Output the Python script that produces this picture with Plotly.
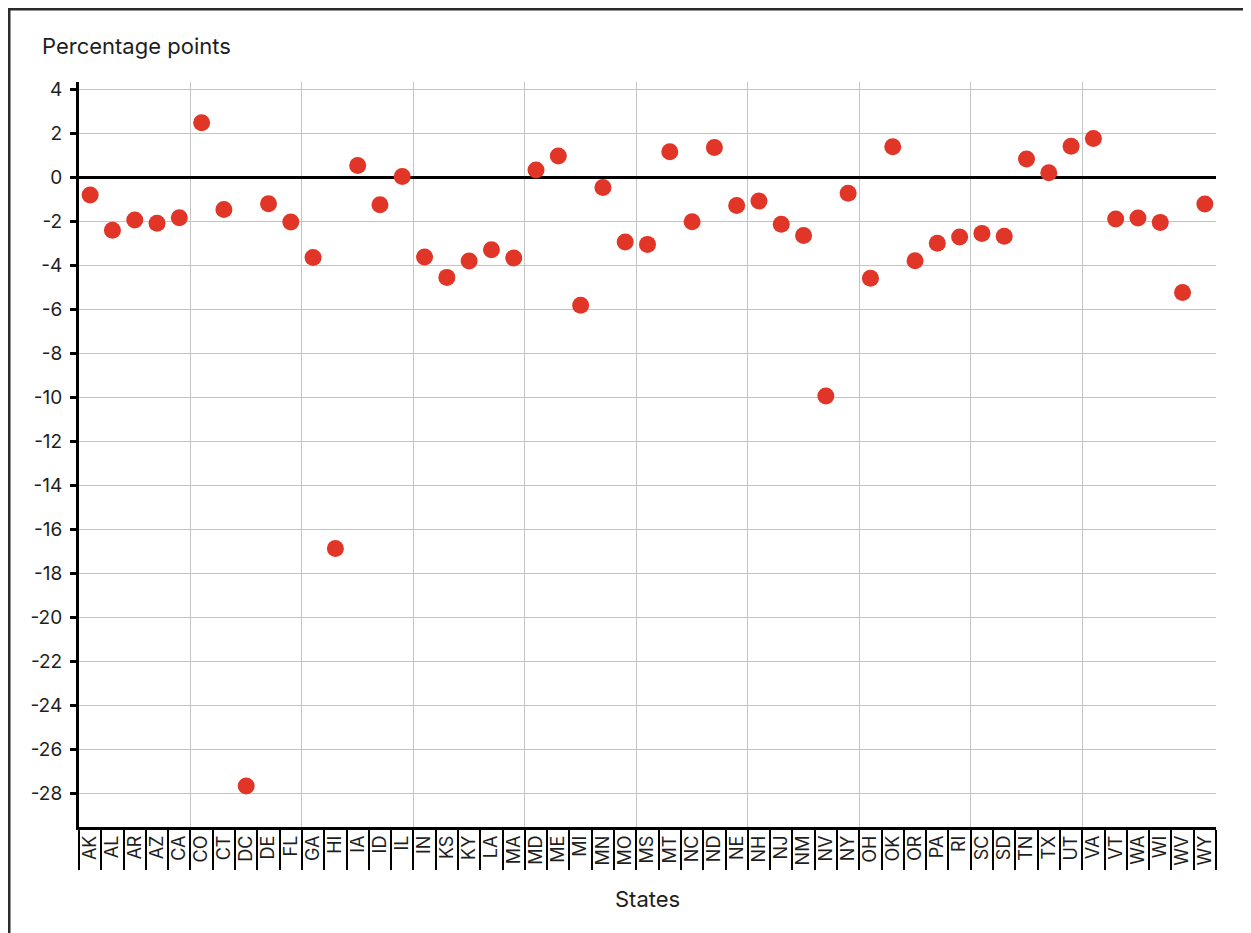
import plotly.graph_objects as go

states = ["AK", "AL", "AR", "AZ", "CA", "CO", "CT", "DC", "DE", "FL",
          "GA", "HI", "IA", "ID", "IL", "IN", "KS", "KY", "LA", "MA",
          "MD", "ME", "MI", "MN", "MO", "MS", "MT", "NC", "ND", "NE",
          "NH", "NJ", "NM", "NV", "NY", "OH", "OK", "OR", "PA", "RI",
          "SC", "SD", "TN", "TX", "UT", "VA", "VT", "WA", "WI", "WV", "WY"]

values = [-0.80, -2.40, -1.93, -2.08, -1.83, 2.49, -1.45, -27.66, -1.19, -2.02,
          -3.64, -16.86, 0.54, -1.24, 0.05, -3.61, -4.54, -3.80, -3.28, -3.66,
          0.34, 0.98, -5.81, -0.45, -2.93, -3.04, 1.17, -2.01, 1.36, -1.27,
          -1.07, -2.13, -2.64, -9.93, -0.72, -4.58, 1.40, -3.78, -2.99, -2.70,
          -2.54, -2.67, 0.84, 0.22, 1.42, 1.77, -1.89, -1.84, -2.04, -5.23, -1.20]

y_tickvals = list(range(-28, 5, 2))
y_ticktext = [str(v) for v in y_tickvals]

y_title = "Percentage points"
x_title = "States"

n = len(states)
grid_every = 5
grid_positions = [i + 0.5 for i in range(grid_every - 1, n - grid_every, grid_every)]

TEXT = "#1e1e1e"
FONT = "Inter"

# page offset of the plotly div (body margin)
OFF = 8
W, H = 1251 - OFF, 933 - OFF
L, R, T, B = 79 - OFF, 35, 82 - OFF, 106
pw, ph = W - L - R, H - T - B


def px_x(p):
    return (p - OFF - L) / pw


def px_y(p):
    return (H - B - (p - OFF)) / ph


fig = go.Figure()

fig.add_trace(go.Scatter(
    x=states, y=values, mode="markers",
    marker=dict(size=17, color="#e03527", line=dict(width=0)),
    xaxis="x", yaxis="y", showlegend=False,
))
fig.add_trace(go.Scatter(
    x=states, y=values, mode="markers",
    marker=dict(size=1, opacity=0), hoverinfo="skip",
    xaxis="x2", yaxis="y", showlegend=False,
))
fig.add_trace(go.Scatter(
    x=list(range(n)), y=values, mode="markers",
    marker=dict(size=1, opacity=0), hoverinfo="skip",
    xaxis="x3", yaxis="y", showlegend=False,
))

xr = [-0.5, n - 0.5]

fig.update_layout(
    width=W, height=H,
    margin=dict(l=L, r=R, t=T, b=B),
    paper_bgcolor="white", plot_bgcolor="white",
    font=dict(family=FONT, color=TEXT),
    xaxis=dict(
        type="category", categoryorder="array", categoryarray=states,
        range=xr, showgrid=False, zeroline=False,
        showline=True, linecolor="black", linewidth=3,
        ticks="outside", tickson="boundaries", ticklen=40, tickwidth=2,
        tickcolor="black", showticklabels=False, anchor="y",
    ),
    xaxis2=dict(
        type="category", categoryorder="array", categoryarray=states,
        range=xr, overlaying="x", anchor="y", side="bottom",
        showgrid=False, zeroline=False, showline=False, ticks="",
        showticklabels=True, tickangle=-90,
        tickfont=dict(family=FONT, size=18, color=TEXT),
        ticklabelstandoff=4,
    ),
    xaxis3=dict(
        type="linear", range=xr, overlaying="x", anchor="y",
        tickmode="array", tickvals=grid_positions,
        showgrid=True, gridcolor="#c4c4c4", gridwidth=1,
        showticklabels=False, ticks="", zeroline=False, showline=False,
    ),
    yaxis=dict(
        range=[-29.52, 4.34],
        tickmode="array", tickvals=y_tickvals, ticktext=y_ticktext,
        showgrid=True, gridcolor="#c4c4c4", gridwidth=1,
        zeroline=True, zerolinecolor="black", zerolinewidth=2.5,
        showline=True, linecolor="black", linewidth=3,
        ticks="outside", ticklen=6, tickwidth=2.5, tickcolor="black",
        tickfont=dict(family=FONT, size=19, color=TEXT),
        ticklabelstandoff=4,
    ),
    annotations=[
        dict(text=y_title, xref="paper", yref="paper",
             x=px_x(40), y=px_y(46), xanchor="left", yanchor="middle",
             showarrow=False, font=dict(family=FONT, size=22, color=TEXT)),
        dict(text=x_title, xref="paper", yref="paper",
             x=0.5, y=px_y(899), xanchor="center", yanchor="middle",
             showarrow=False, font=dict(family=FONT, size=22, color=TEXT)),
    ],
    shapes=[
        dict(type="rect", xref="paper", yref="paper",
             x0=px_x(OFF + 1), x1=px_x(1251 + 40), y0=px_y(933 + 40), y1=px_y(OFF + 1),
             line=dict(color="#2b2b2b", width=3), fillcolor="rgba(0,0,0,0)",
             layer="above"),
    ],
)

fig.write_html("out.html")
